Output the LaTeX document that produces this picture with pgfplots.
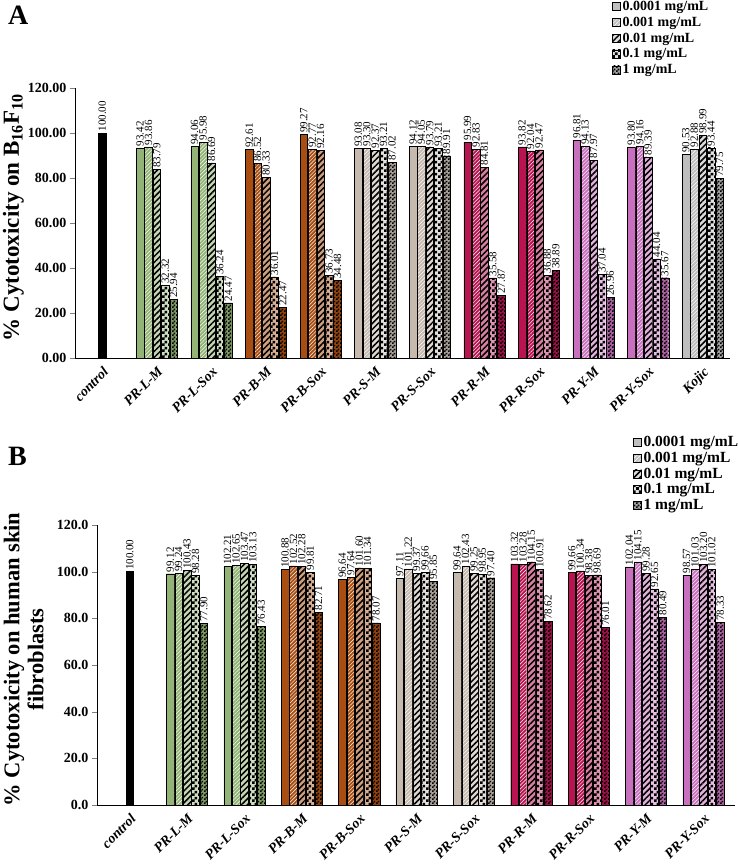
\documentclass[border=0pt]{standalone}
\usepackage{fontspec}
\setmainfont{Liberation Serif}
\usepackage{pgfplots}
\usepackage{pgfplotstable}
\pgfplotsset{compat=1.18}
\usetikzlibrary{patterns,patterns.meta}

\definecolor{cL}{RGB}{147,180,118}
\definecolor{cB}{RGB}{168,78,18}
\definecolor{cS}{RGB}{198,186,175}
\definecolor{cR}{RGB}{184,20,82}
\definecolor{cY}{RGB}{200,112,190}
\definecolor{cK}{RGB}{190,190,190}

\pgfdeclarepatternformonly{bigcheck}{\pgfpointorigin}{\pgfqpoint{6pt}{6pt}}{\pgfqpoint{6pt}{6pt}}{%
  \pgfpathrectangle{\pgfpointorigin}{\pgfqpoint{3pt}{3pt}}%
  \pgfpathrectangle{\pgfqpoint{3pt}{3pt}}{\pgfqpoint{3pt}{3pt}}%
  \pgfusepath{fill}}
\pgfdeclarepatternformonly{smallcheck}{\pgfpointorigin}{\pgfqpoint{4pt}{4pt}}{\pgfqpoint{4pt}{4pt}}{%
  \pgfpathrectangle{\pgfpointorigin}{\pgfqpoint{2pt}{2pt}}%
  \pgfpathrectangle{\pgfqpoint{2pt}{2pt}}{\pgfqpoint{2pt}{2pt}}%
  \pgfusepath{fill}}

% B16F10 cytotoxicity, x = group index (1..11)
\pgfplotstableread{
x   c1      c2      c3      c4      c5
1   93.42   93.86   83.79   32.32   25.94
2   94.06   95.98   86.69   36.24   24.47
3   92.61   86.52   80.33   36.01   22.47
4   99.27   92.77   92.16   36.73   34.48
5   93.08   93.30   92.37   93.21   87.02
6   94.12   94.05   93.79   93.21   89.91
7   95.99   92.83   84.81   35.58   27.87
8   93.82   92.04   92.47   36.88   38.89
9   96.81   94.13   87.97   37.04   26.96
10  93.80   94.16   89.39   44.04   35.67
11  90.53   92.88   98.99   93.44   79.75
}\tabA

% human skin fibroblasts, x = group index (1..10)
\pgfplotstableread{
x   c1      c2      c3      c4      c5
1   99.12   99.24   100.43  98.28   77.90
2   102.21  102.65  103.47  103.13  76.43
3   100.88  102.52  102.28  99.81   82.71
4   96.64   97.64   101.60  101.34  78.07
5   97.11   101.22  99.37   99.66   95.85
6   99.64   102.43  99.25   98.95   97.40
7   103.32  103.28  104.15  100.91  78.62
8   99.66   100.34  98.38   98.69   76.01
9   102.04  104.15  99.28   92.65   80.49
10  98.57   101.03  103.20  101.02  78.33
}\tabB

\pgfplotsset{
  /pgf/number format/assume math mode=true,
  lg1/.style={fill=#1, draw=black, line width=0.4pt},
  lg2/.style={fill=#1, draw=black, line width=0.4pt,
    postaction={pattern={Lines[angle=45,distance=2.6pt,line width=0.45pt]}, pattern color=white}},
  lg3/.style={fill=#1!55!white, draw=black, line width=0.4pt,
    postaction={pattern={Lines[angle=45,distance=4.2pt,line width=1.5pt]}, pattern color=black}},
  lg4/.style={fill=#1!45!white, draw=black, line width=0.4pt,
    postaction={pattern=bigcheck, pattern color=black}},
  lg5/.style={fill=#1!85!black, draw=black, line width=0.4pt,
    postaction={pattern=smallcheck, pattern color=black}},
  nn/.style={every node near coord/.style={xshift=#1, rotate=90, anchor=west,
    inner sep=1.5pt, font=\fontsize{11}{11}\selectfont}},
  mybar/.style={ybar, bar width=7.6pt, forget plot},
  c1/.style={mybar, bar shift=-16.8pt, nn=-16.8pt, lg1=#1},
  c2/.style={mybar, bar shift=-8.4pt, nn=-8.4pt, lg2=#1},
  c3/.style={mybar, bar shift=0pt, nn=0pt, lg3=#1},
  c4/.style={mybar, bar shift=8.4pt, nn=8.4pt, lg4=#1},
  c5/.style={mybar, bar shift=16.8pt, nn=16.8pt, lg5=#1},
  panel/.style={
    anchor=south west, scale only axis,
    ymin=0, ymax=120, ytick={0,20,...,120},
    axis x line=bottom, axis y line=left,
    axis line style={-, line width=0.8pt},
    tick align=outside, major tick length=5pt,
    x tick style={draw=none},
    yticklabel style={font=\bfseries\fontsize{14}{14}\selectfont},
    xticklabel style={rotate=45, anchor=north east, inner sep=2pt,
      font=\bfseries\itshape\fontsize{14}{14}\selectfont},
    nodes near coords={\pgfmathprintnumber[fixed,fixed zerofill,precision=2]{\pgfplotspointmeta}},
    legend cell align=left,
    legend image code/.code={\draw[##1] (0pt,-4pt) rectangle (8pt,4pt);},
  },
}

\newcommand\grp[3]{\pgfplotsinvokeforeach{1,...,5}{%
  \addplot[c##1=#2, restrict x to domain=#3] table[x=x, y=c##1]{#1};}}

\begin{document}
\begin{tikzpicture}
\useasboundingbox (0,0) rectangle (738pt,-868pt);
\node[anchor=north west, font=\bfseries\fontsize{28}{28}\selectfont, inner sep=0pt] at (8pt,-6pt) {A};
\node[anchor=north west, font=\bfseries\fontsize{28}{28}\selectfont, inner sep=0pt] at (8pt,-447pt) {B};

\begin{axis}[panel,
  at={(75pt,-358pt)}, width=655pt, height=270pt,
  xmin=-0.5, xmax=11.5,
  xtick={0,...,11},
  xticklabels={control,PR-L-M,PR-L-Sox,PR-B-M,PR-B-Sox,PR-S-M,PR-S-Sox,PR-R-M,PR-R-Sox,PR-Y-M,PR-Y-Sox,Kojic},
  yticklabel style={/pgf/number format/.cd, fixed, fixed zerofill, precision=2},
  ylabel={\% Cytotoxicity on B\textsubscript{16}F\textsubscript{10}},
  every axis y label/.style={at={(axis description cs:-0.094,0.52)}, rotate=90, anchor=center,
    font=\bfseries\fontsize{23}{25}\selectfont},
  legend style={at={(axis description cs:0.82,1.33)}, anchor=north west, draw=none, fill=none,
    font=\bfseries\fontsize{14}{14}\selectfont, row sep=1pt, inner sep=0pt},
]
\addlegendimage{lg1=lightgray}\addlegendentry{0.0001 mg/mL}
\addlegendimage{lg2=lightgray}\addlegendentry{0.001 mg/mL}
\addlegendimage{lg3=lightgray}\addlegendentry{0.01 mg/mL}
\addlegendimage{lg4=lightgray}\addlegendentry{0.1 mg/mL}
\addlegendimage{lg5=lightgray}\addlegendentry{1 mg/mL}
\addplot[mybar, bar shift=0pt, nn=0pt, fill=black, draw=black] coordinates {(0,100.00)};
\grp{\tabA}{cL}{0.5:2.5}
\grp{\tabA}{cB}{2.5:4.5}
\grp{\tabA}{cS}{4.5:6.5}
\grp{\tabA}{cR}{6.5:8.5}
\grp{\tabA}{cY}{8.5:10.5}
\grp{\tabA}{cK}{10.5:11.5}
\end{axis}

\begin{axis}[panel,
  at={(97pt,-805pt)}, width=638pt, height=280pt,
  xmin=-0.57, xmax=10.55,
  xtick={0,...,10},
  xticklabels={control,PR-L-M,PR-L-Sox,PR-B-M,PR-B-Sox,PR-S-M,PR-S-Sox,PR-R-M,PR-R-Sox,PR-Y-M,PR-Y-Sox},
  yticklabel style={/pgf/number format/.cd, fixed, fixed zerofill, precision=1},
  ylabel={\% Cytotoxicity on human skin\\fibroblasts},
  every axis y label/.style={at={(axis description cs:-0.115,0.52)}, rotate=90, anchor=center,
    align=center, font=\bfseries\fontsize{22.5}{24}\selectfont},
  legend style={at={(axis description cs:0.84,1.325)}, anchor=north west, draw=none, fill=none,
    font=\bfseries\fontsize{15.5}{15.5}\selectfont, row sep=0pt, inner sep=0pt},
]
\addlegendimage{lg1=lightgray}\addlegendentry{0.0001 mg/mL}
\addlegendimage{lg2=lightgray}\addlegendentry{0.001 mg/mL}
\addlegendimage{lg3=lightgray}\addlegendentry{0.01 mg/mL}
\addlegendimage{lg4=lightgray}\addlegendentry{0.1 mg/mL}
\addlegendimage{lg5=lightgray}\addlegendentry{1 mg/mL}
\addplot[mybar, bar shift=0pt, nn=0pt, fill=black, draw=black] coordinates {(0,100.00)};
\grp{\tabB}{cL}{0.5:2.5}
\grp{\tabB}{cB}{2.5:4.5}
\grp{\tabB}{cS}{4.5:6.5}
\grp{\tabB}{cR}{6.5:8.5}
\grp{\tabB}{cY}{8.5:10.5}
\end{axis}
\end{tikzpicture}
\end{document}
